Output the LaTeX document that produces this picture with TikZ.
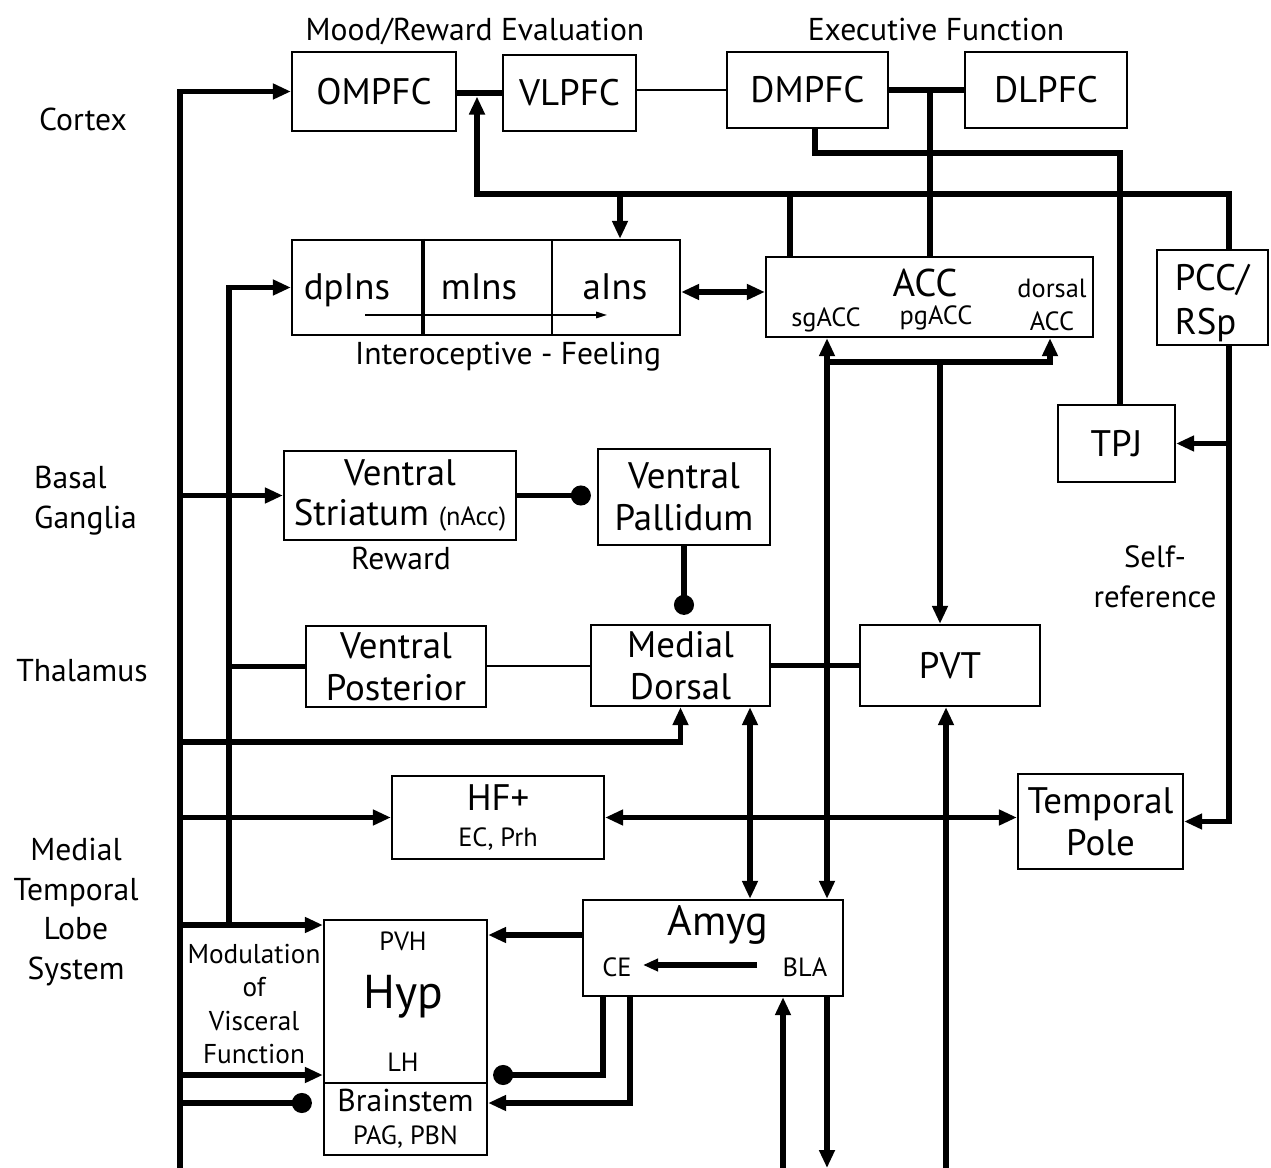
\documentclass[tikz,border=0pt]{standalone}
\usepackage{fontspec}
\setmainfont{PT Sans}
\usetikzlibrary{positioning, arrows.meta}

\begin{document}
\begin{tikzpicture}[x=0.02cm, y=-0.02cm, >={Triangle[length=0.36cm,width=0.3cm]},
    box/.style={draw, line width=1.3pt, inner sep=0pt, align=center, font=\fontsize{21}{24}\selectfont},
    link/.style={line width=3pt},
    fine/.style={line width=0.9pt},
    blob/.style={-{Circle[length=0.4cm]}},
    lbl/.style={align=center, font=\fontsize{18}{22.7}\selectfont},
    sml/.style={font=\fontsize{15}{19}\selectfont},
    cell/.style={anchor=base, font=\fontsize{21}{24}\selectfont}]
                \useasboundingbox (0,0) rectangle (1271,1168);

                \node[lbl] (cortex) at (83,119) {Cortex};
                \node[lbl, align=left, anchor=west] (basal) at (28,501) {Basal\\Ganglia};
                \node[lbl] (thal) at (82,671) {Thalamus};
                \node[lbl] (mtl) at (76,912) {Medial\\Temporal\\Lobe\\System};
                \node[lbl] (mood) at (475,31) {Mood/Reward Evaluation};
                \node[lbl] (exec) at (936,30) {Executive Function};

                \node[box, minimum width=3.28cm, minimum height=1.58cm] (omp) at (374,91.5) {OMPFC};
                \node[box, minimum width=2.66cm, minimum height=1.52cm] (vlp) at (569.5,93) {VLPFC};
                \node[box, minimum width=3.22cm, minimum height=1.52cm] (dmp) at (807.5,90) {DMPFC};
                \node[box, minimum width=3.24cm, minimum height=1.52cm] (dlp) at (1046,90) {DLPFC};

                \node[box, minimum width=2.6cm, minimum height=1.9cm] (dpins) at (357,287.5) {};
                \node[box, minimum width=2.6cm, minimum height=1.9cm] (mins) at (487,287.5) {};
                \node[box, minimum width=2.56cm, minimum height=1.9cm] (ains) at (616,287.5) {};
                \node[cell] (dpinst) at (347,300) {dpIns};
                \node[cell] (minst) at (479,300) {mIns};
                \node[cell] (ainst) at (615,300) {aIns};
                \node[lbl] (intero) at (508,357) {Interoceptive - Feeling};

                \node[box, minimum width=6.54cm, minimum height=1.6cm] (acc) at (929.5,297) {};
                \node[font=\fontsize{22}{24}\selectfont] (acct) at (925,283) {ACC};
                \node[sml] (sgacc) at (826,320) {sgACC};
                \node[sml] (pgacc) at (936,318) {pgACC};
                \node[sml, align=center] (dacc) at (1052,305) {dorsal\\ACC};

                \node[box, minimum width=2.22cm, minimum height=1.9cm] (pcc) at (1212.5,297.5) {};
                \node[align=left, font=\fontsize{21}{25}\selectfont] (pcct) at (1212,303) {PCC/\\RSp};
                \node[box, minimum width=2.34cm, minimum height=1.54cm] (tpj) at (1116.5,443.5) {TPJ};
                \node[lbl, font=\fontsize{17.5}{22.7}\selectfont] (selfref) at (1155,577) {Self-\\reference};

                \node[box, minimum width=4.64cm, minimum height=1.78cm, font=\fontsize{21}{22.7}\selectfont] (vs) at (400,495.5) {Ventral\\Striatum {\fontsize{15}{17}\selectfont(nAcc)}};
                \node[lbl] (reward) at (401,558) {Reward};
                \node[box, minimum width=3.44cm, minimum height=1.92cm] (vp) at (684,497) {Ventral\\Pallidum};

                \node[box, minimum width=3.6cm, minimum height=1.62cm] (vpost) at (396,666.5) {Ventral\\Posterior};
                \node[box, minimum width=3.58cm, minimum height=1.62cm] (md) at (680.5,665.5) {Medial\\Dorsal};
                \node[box, minimum width=3.6cm, minimum height=1.62cm] (pvt) at (950,665.5) {PVT};

                \node[box, minimum width=4.24cm, minimum height=1.66cm] (hf) at (498,817.5) {HF+\\[-4pt]{\fontsize{15}{17}\selectfont EC, Prh}};
                \node[box, minimum width=3.3cm, minimum height=1.9cm] (tp) at (1100.5,821.5) {Temporal\\Pole};

                \node[box, minimum width=5.2cm, minimum height=1.92cm] (amyg) at (713,948) {};
                \node[font=\fontsize{24}{26}\selectfont] (amygt) at (718,925) {Amyg};
                \node[sml] (ce) at (617,967) {CE};
                \node[sml] (bla) at (805,967) {BLA};

                \node[box, minimum width=3.26cm, minimum height=3.26cm] (hyp) at (405.5,1001.5) {};
                \node[sml] (pvh) at (403,941) {PVH};
                \node[font=\fontsize{27}{29}\selectfont] (hypt) at (403,997) {Hyp};
                \node[sml] (lh) at (403,1062) {LH};
                \node[box, minimum width=3.26cm, minimum height=1.44cm, font=\fontsize{18}{19}\selectfont] (bs) at (405.5,1119) {Brainstem\\{\fontsize{15}{17}\selectfont PAG, PBN}};
                \node[lbl, font=\fontsize{15.5}{19}\selectfont] (visc) at (254,1004) {Modulation\\of\\Visceral\\Function};

                \coordinate (ctxbot) at (180,1168);
                \coordinate (insbot) at (229,925);
                \coordinate (mdin) at (180,742);
                \coordinate (lhin) at (180,1075);
                \coordinate (bsin) at (180,1103);
                \coordinate (ov) at (0,93);
                \coordinate (vd) at (0,90);
                \coordinate (exj) at (930,90);
                \coordinate (dmx) at (815,153);
                \coordinate (tpjx) at (1120,153);
                \coordinate (busl) at (477,194);
                \coordinate (busr) at (1229,194);
                \coordinate (insj) at (620,194);
                \coordinate (accj1) at (790,194);
                \coordinate (ia) at (0,292);
                \coordinate (th) at (0,666);
                \coordinate (sgx) at (827,0);
                \coordinate (accj) at (827,362);
                \coordinate (daccj) at (1050,362);
                \coordinate (pvtj) at (940,362);
                \coordinate (pccx) at (1229,0);
                \coordinate (mdx) at (750,0);
                \coordinate (pvtin) at (946,1168);
                \coordinate (ah) at (0,935);
                \coordinate (ce1) at (603,1075);
                \coordinate (ce2) at (630,1103);
                \coordinate (blain) at (783,1168);
                \coordinate (blaout) at (827,1168);
                \coordinate (flowa) at (365,315);
                \coordinate (flowb) at (607,315);
                \coordinate (blaa) at (757,965);
                \coordinate (cea) at (643,965);

                \draw[link,->] (ctxbot) |- (omp.west);
                \draw[link,->] (insbot) |- (dpins.west);
                \draw[link,->] (ctxbot |- vs.west) -- (vs.west);
                \draw[link] (insbot |- vpost.west) -- (vpost.west);
                \draw[link,->] (mdin) -| (md.south);
                \draw[link,->] (ctxbot |- hf.west) -- (hf.west);
                \draw[link,->] (ctxbot |- insbot) -- (hyp.west |- insbot);
                \draw[link,->] (lhin) -- (lhin -| hyp.west);
                \draw[link,blob,shorten >=0.22cm] (bsin) -- (bsin -| bs.west);

                \draw[link] (omp.east |- ov) -- (vlp.west |- ov);
                \draw[fine] (vlp.east |- vd) -- (dmp.west |- vd);
                \draw[link] (dmp.east |- vd) -- (dlp.west |- vd);
                \draw[link] (exj) -- (exj |- acc.north);
                \draw[link] (dmp.south -| dmx) |- (tpjx) -- (tpjx |- tpj.north);
                \draw[link,->,shorten >=2pt] (busr |- pcc.north) -- (busr) -- (busl) -- (busl |- ov);
                \draw[link,->] (insj) -- (insj |- ains.north);
                \draw[link] (accj1) -- (accj1 |- acc.north);

                \draw[line width=2pt] (dpins.north east) -- (dpins.south east);
                \draw[fine,-{Triangle[length=0.22cm,width=0.13cm]}] (flowa) -- (flowb);
                \draw[link,<->] (ains.east |- ia) -- (acc.west |- ia);

                \draw[link,<->] (acc.south -| sgx) -- (amyg.north -| sgx);
                \draw[link,->] (accj) -- (daccj) -- (daccj |- acc.south);
                \draw[link,->] (pvtj) -- (pvtj |- pvt.north);
                \draw[link,->] (pcc.south -| pccx) |- (tp.east);
                \draw[link,->] (pccx |- tpj.east) -- (tpj.east);

                \draw[link,blob,shorten >=0.12cm] (vs.east) -- (vs.east -| vp.west);
                \draw[link,blob,shorten >=0.18cm] (vp.south) -- (vp.south |- md.north);
                \draw[fine] (vpost.east |- th) -- (md.west |- th);
                \draw[link] (md.east) -- (pvt.west);
                \draw[link,<->] (md.south -| mdx) -- (amyg.north -| mdx);
                \draw[link,->] (pvtin) -- (pvtin |- pvt.south);
                \draw[link,<->] (hf.east) -- (hf.east -| tp.west);

                \draw[link,->] (amyg.west |- ah) -- (hyp.east |- ah);
                \draw[link,blob,shorten >=0.1cm] (amyg.south -| ce1) |- (hyp.east |- ce1);
                \draw[link,->] (amyg.south -| ce2) |- (bs.east |- ce2);
                \draw[link,->] (blain) -- (blain |- amyg.south);
                \draw[link,->] (amyg.south -| blaout) -- (blaout);
                \draw[link,-{Triangle[length=0.3cm,width=0.24cm]}] (blaa) -- (cea);
            \end{tikzpicture}
\end{document}
